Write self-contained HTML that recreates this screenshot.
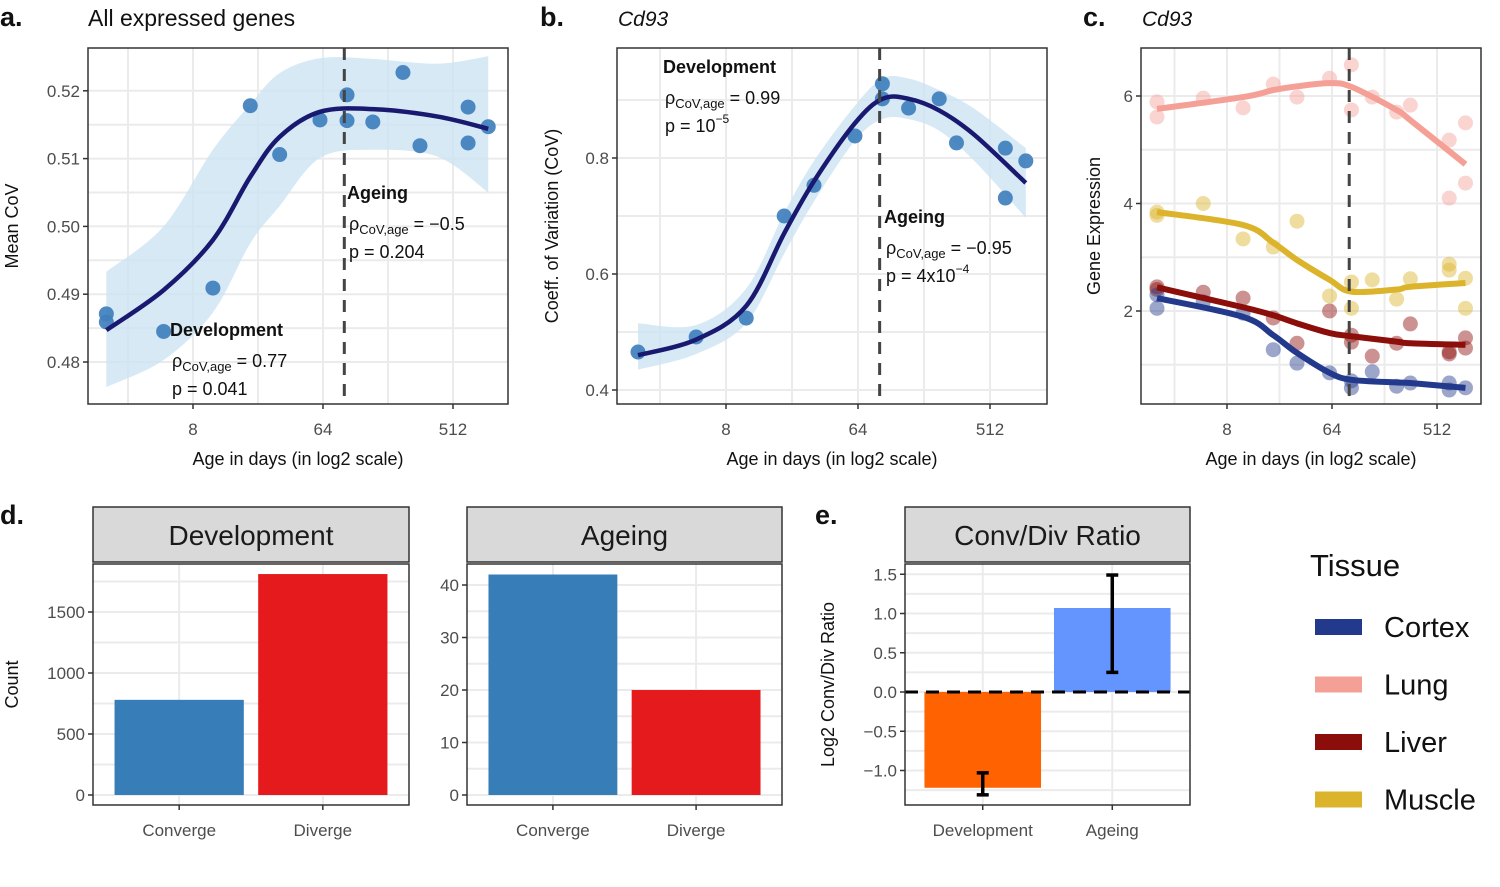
<!DOCTYPE html>
<html><head><meta charset="utf-8"><style>
body{margin:0;background:#fff;}
svg{display:block;font-family:"Liberation Sans",Arial,sans-serif;}
</style></head><body>
<svg id="fig" width="1500" height="887" viewBox="0 0 1500 887" xmlns="http://www.w3.org/2000/svg"></svg>
<script>
// ---------- Panel a data ----------
const agesA = [2,2,5,11,20,32,61,94,94,142,230,302,652,652,900];
const meanCovA = [0.4871,0.4859,0.4845,0.4909,0.5178,0.5106,0.5157,0.5194,0.5156,0.5154,0.5227,0.5119,0.5176,0.5123,0.5147];
const fitAgesA = [2,5,11,20,32,61,142,400,900];
const fitA = [0.4847,0.4906,0.498,0.5073,0.5132,0.5169,0.5173,0.5162,0.5144];
const upperA = [0.4933,0.500,0.5113,0.518,0.5226,0.5248,0.5247,0.524,0.5251];
const lowerA = [0.4763,0.4803,0.4873,0.4975,0.503,0.5101,0.5113,0.5103,0.505];
const yTicksA = [0.48,0.49,0.50,0.51,0.52];
// ---------- Panel b data ----------
const agesB = [2,5,11,20,32,61,94,94,142,230,302,652,652,900];
const covB = [0.4655,0.4914,0.524,0.70,0.753,0.838,0.928,0.902,0.886,0.902,0.826,0.817,0.731,0.795];
const fitAgesB = [2,5,11,20,32,61,94,142,230,400,900];
const fitB = [0.460,0.487,0.545,0.67,0.76,0.86,0.902,0.902,0.882,0.84,0.757];
const upperB = [0.515,0.512,0.575,0.705,0.795,0.89,0.937,0.937,0.917,0.885,0.817];
const lowerB = [0.435,0.462,0.515,0.635,0.725,0.83,0.867,0.867,0.847,0.795,0.697];
const yTicksB = [0.4,0.6,0.8];
// ---------- Panel c data ----------
const tissueNames = ["Cortex","Lung","Liver","Muscle"];
const ages16 = [2,2,5,11,20,32,61,94,94,142,230,302,652,652,900,900];
const cortexAges = [2,2,5,11,20,32,61,94,94,142,230,302,652,652,900];
const lungExpr = [5.89,5.61,5.96,5.78,6.22,5.98,6.33,6.58,5.74,5.98,5.70,5.83,5.18,4.10,5.50,4.38];
const muscleExpr = [3.84,3.78,4.0,3.34,3.19,3.67,2.28,2.54,2.05,2.58,2.22,2.60,2.87,2.76,2.61,2.05];
const liverExpr = [2.45,2.40,2.35,2.24,1.87,1.40,2.0,1.55,1.42,1.16,1.40,1.76,1.24,1.20,1.50,1.31];
const cortexExpr = [2.30,2.05,2.17,1.96,1.28,1.03,0.85,0.70,0.57,0.87,0.60,0.66,0.66,0.53,0.57];
const fitAgesC = [2,11,20,32,61,94,230,302,900];
const lungFit = [5.76,5.98,6.11,6.18,6.24,6.17,5.74,5.55,4.73];
const muscleFit = [3.84,3.6,3.27,2.95,2.58,2.36,2.40,2.45,2.52];
const liverFit = [2.44,2.07,1.92,1.77,1.59,1.53,1.43,1.40,1.37];
const cortexFit = [2.24,1.89,1.55,1.22,0.85,0.72,0.67,0.66,0.57];
const yTicksC = [2,4,6];
const xTickAges = [8,64,512];
const splitAge = 90;
// ---------- Panel d data ----------
const dirCats = ["Converge","Diverge"];
const devCounts = [780,1811];
const ageCounts = [42,20];
const yTicksDev = [0,500,1000,1500];
const yTicksAge = [0,10,20,30,40];
// ---------- Panel e data ----------
const ratioCats = ["Development","Ageing"];
const ratioVals = [-1.22,1.07];
const ratioLo = [-1.31,0.25];
const ratioHi = [-1.03,1.49];
const yTicksE = [-1.0,-0.5,0.0,0.5,1.0,1.5];

const NS="http://www.w3.org/2000/svg";
const svg=document.getElementById('fig');
function el(tag,attrs,parent,text){const e=document.createElementNS(NS,tag);for(const k in attrs)e.setAttribute(k,attrs[k]);if(text!==undefined)e.textContent=text;(parent||svg).appendChild(e);return e;}
function spline(pts){let d="M"+pts[0][0]+","+pts[0][1];for(let i=0;i<pts.length-1;i++){const p0=pts[i-1]||pts[i],p1=pts[i],p2=pts[i+1],p3=pts[i+2]||p2;const c1=[p1[0]+(p2[0]-p0[0])/6,p1[1]+(p2[1]-p0[1])/6],c2=[p2[0]-(p3[0]-p1[0])/6,p2[1]-(p3[1]-p1[1])/6];d+=" C"+c1+" "+c2+" "+p2;}return d;}
function logX(x8,k){return a=>x8+(Math.log2(a)-3)*k;}
function linY(v0,y0,ppu){return v=>y0-(v-v0)*ppu;}

function frame(g,x0,y0,x1,y1){const r=el('rect',{x:x0,y:y0,width:x1-x0,height:y1-y0,fill:'none',stroke:'#333','stroke-width':1.5},g);}
function hgrid(g,x0,x1,y,ymin,ymax){if(ymin!==undefined&&(y<ymin||y>ymax))return;el('line',{x1:x0,x2:x1,y1:y,y2:y,stroke:'#ebebeb','stroke-width':2},g);}
function vgrid(g,y0,y1,x){el('line',{x1:x,x2:x,y1:y0,y2:y1,stroke:'#ebebeb','stroke-width':2},g);}
function ytick(g,x0,y,label,fs){el('line',{x1:x0-5,x2:x0,y1:y,y2:y,stroke:'#333','stroke-width':1.5},g);const t=el('text',{x:x0-8,y:y+6,'text-anchor':'end','font-size':fs||17,fill:'#4d4d4d'},g,label);}
function xtick(g,x,y1,label,fs){el('line',{x1:x,x2:x,y1:y1,y2:y1+5,stroke:'#333','stroke-width':1.5},g);const t=el('text',{x:x,y:y1+31,'text-anchor':'middle','font-size':fs||17,fill:'#4d4d4d'},g,label);}

function scatterPanel(cfg){
 const g=el('g',{});
 const X=logX(cfg.x8,cfg.k),Y=cfg.Y;
 for(const l of [1.5,4.5,7.5]) vgrid(g,cfg.y0,cfg.y1,cfg.x8+(l-3)*cfg.k);
 for(const a of xTickAges) vgrid(g,cfg.y0,cfg.y1,X(a));
 for(const v of cfg.minorY) hgrid(g,cfg.x0,cfg.x1,Y(v));
 for(const v of cfg.yTicks) hgrid(g,cfg.x0,cfg.x1,Y(v));
 cfg.draw(g,X,Y);
 const dl=el('line',{x1:X(splitAge),x2:X(splitAge),y1:cfg.y0,y2:cfg.y1,stroke:'#444','stroke-width':3,'stroke-dasharray':'12,9'},g);
 
 frame(g,cfg.x0,cfg.y0,cfg.x1,cfg.y1);
 for(const v of cfg.yTicks) ytick(g,cfg.x0,Y(v),cfg.fmt(v));
 for(const a of xTickAges) xtick(g,X(a),cfg.y1,String(a));
 const xt=el('text',{x:(cfg.x0+cfg.x1)/2,y:465,'text-anchor':'middle','font-size':18,fill:'#111'},g,'Age in days (in log2 scale)');
 
 const yt=el('text',{x:cfg.ytx,y:(cfg.y0+cfg.y1)/2,'text-anchor':'middle','font-size':18,fill:'#111',transform:`rotate(-90 ${cfg.ytx} ${(cfg.y0+cfg.y1)/2})`},g,cfg.ytitle);
 
 return g;
}
function fitDraw(g,X,Y,ages,vals,fitAges,fit,up,lo){
 const upP=fitAges.map((a,i)=>[X(a),Y(up[i])]),loP=fitAges.map((a,i)=>[X(a),Y(lo[i])]).reverse();
 const rib=el('path',{d:spline(upP)+" L"+loP[0]+" "+spline(loP).slice(1)+" Z",fill:'#cce4f2','fill-opacity':0.8},g);
 
 for(let i=0;i<ages.length;i++){const c=el('circle',{cx:X(ages[i]),cy:Y(vals[i]),r:7.5,fill:'#3f7fbd','fill-opacity':0.92},g);
  }
 const ln=el('path',{d:spline(fitAges.map((a,i)=>[X(a),Y(fit[i])])),fill:'none',stroke:'#191970','stroke-width':4.5},g);
 
}
function annot(g,x,y,title,rho,p,pexp){
 const t=el('text',{x:x,y:y,'font-size':18,'font-weight':'bold',fill:'#111'},g,title);
 const r=el('text',{x:x+2,y:y+31,'font-size':18,fill:'#111'},g);
 el('tspan',{},r,'ρ');el('tspan',{'font-size':13,dy:4},r,'CoV,age');el('tspan',{dy:-4},r,' = '+rho);
 const pt=el('text',{x:x+2,y:y+59,'font-size':18,fill:'#111'},g,'p = '+p);
 if(pexp){el('tspan',{'font-size':12,dy:-9},pt,pexp);}
}

const ga=scatterPanel({name:'panel-a',x0:88,x1:508,y0:48,y1:404,x8:193,k:43.33,Y:linY(0.48,362,6780),yTicks:yTicksA,minorY:[0.485,0.495,0.505,0.515],fmt:v=>v.toFixed(2),ytx:18,ytitle:'Mean CoV',
 draw:(g,X,Y)=>fitDraw(g,X,Y,agesA,meanCovA,fitAgesA,fitA,upperA,lowerA)});
annot(ga,170,336,'Development','0.77','0.041');
annot(ga,347,199,'Ageing','−0.5','0.204');
const gb=scatterPanel({name:'panel-b',x0:617,x1:1047,y0:48,y1:404,x8:726,k:44,Y:linY(0.4,390,580),yTicks:yTicksB,minorY:[0.5,0.7,0.9],fmt:v=>v.toFixed(1),ytx:558,ytitle:'Coeff. of Variation (CoV)',
 draw:(g,X,Y)=>fitDraw(g,X,Y,agesB,covB,fitAgesB,fitB,upperB,lowerB)});
annot(gb,663,73,'Development','0.99','10','−5');
annot(gb,884,223,'Ageing','−0.95','4x10','−4');
const tissueCols={Cortex:'#233a8c',Lung:'#f4a096',Liver:'#8b0e0a',Muscle:'#dbb42c'};
const gc=scatterPanel({name:'panel-c',x0:1141,x1:1481,y0:48,y1:404,x8:1227,k:35,Y:linY(2,311,53.75),yTicks:yTicksC,minorY:[1,3,5],fmt:v=>String(v),ytx:1100,ytitle:'Gene Expression',
 draw:(g,X,Y)=>{
  const sets=[['Lung',ages16,lungExpr,lungFit],['Muscle',ages16,muscleExpr,muscleFit],['Liver',ages16,liverExpr,liverFit],['Cortex',cortexAges,cortexExpr,cortexFit]];
  for(const s of sets){for(let i=0;i<s[1].length;i++){const c=el('circle',{cx:X(s[1][i]),cy:Y(s[2][i]),r:7.5,fill:tissueCols[s[0]],'fill-opacity':0.45},g);
    }}
  for(const s of sets){const l=el('path',{d:spline(fitAgesC.map((a,i)=>[X(a),Y(s[3][i])])),fill:'none',stroke:tissueCols[s[0]],'stroke-width':6},g);
    }
 }});

function label(x,y,t,fs,extra,name){const e=el('text',Object.assign({x:x,y:y,'font-size':fs,fill:'#111'},extra||{}),svg,t);}
label(0,26,'a.',27,{'font-weight':'bold'},'panel-label-a');
label(88,26,'All expressed genes',23,{},'panel-a-title');
label(540,26,'b.',27,{'font-weight':'bold'},'panel-label-b');
label(618,26,'Cd93',21,{'font-style':'italic'},'panel-b-title');
label(1083,26,'c.',27,{'font-weight':'bold'},'panel-label-c');
label(1142,26,'Cd93',21,{'font-style':'italic'},'panel-c-title');
label(0,524,'d.',27,{'font-weight':'bold'},'panel-label-d');
label(815,524,'e.',27,{'font-weight':'bold'},'panel-label-e');

function barPanel(name,x0,x1,strip,cats,vals,yT,Y,colors,extraGrid){
 const g=el('g',{});
 const y0=564,y1=805;
 const st=el('rect',{x:x0,y:507,width:x1-x0,height:55,fill:'#d9d9d9',stroke:'#333','stroke-width':1.5},g);
 const stt=el('text',{x:(x0+x1)/2,y:545,'text-anchor':'middle','font-size':28,fill:'#1a1a1a'},g,strip);
 const unit=(x1-x0)/(cats.length+0.2);
 g.cx=i=>x0+unit*(0.6+i);
 for(let i=0;i<yT.length-1;i++) hgrid(g,x0,x1,Y((yT[i]+yT[i+1])/2),y0,y1);
 hgrid(g,x0,x1,Y(yT[yT.length-1]+(yT[1]-yT[0])/2),y0,y1);
 if(extraGrid) hgrid(g,x0,x1,Y(yT[0]-(yT[1]-yT[0])/2),y0,y1);
 for(const v of yT) hgrid(g,x0,x1,Y(v),y0,y1);
 for(let i=0;i<cats.length;i++) vgrid(g,y0,y1,g.cx(i));
 for(let i=0;i<cats.length;i++){const cx=g.cx(i),w=unit*0.9;const top=Math.min(Y(0),Y(vals[i])),h=Math.abs(Y(vals[i])-Y(0));
  const b=el('rect',{x:cx-w/2,y:top,width:w,height:h,fill:colors[i]},g);}
 return g;
}
function finishBar(g,x0,x1,cats,yT,Y,fmt,ytitle,ytx){
 const y0=564,y1=805;frame(g,x0,y0,x1,y1);
 for(const v of yT) ytick(g,x0,Y(v),fmt(v));
 for(let i=0;i<cats.length;i++) xtick(g,g.cx(i),y1,cats[i]);
 if(ytitle){const yt=el('text',{x:ytx,y:(y0+y1)/2,'text-anchor':'middle','font-size':18,fill:'#111',transform:`rotate(-90 ${ytx} ${(y0+y1)/2})`},g,ytitle);}
}
const Yd=linY(0,795,0.122),Yg=linY(0,795,5.25),Ye=linY(0,692,78.5);
const gd=barPanel('panel-d-development',93,409,'Development',dirCats,devCounts,yTicksDev,Yd,['#377eb8','#e41a1c']);
finishBar(gd,93,409,dirCats,yTicksDev,Yd,v=>String(v),'Count',18);
const gg=barPanel('panel-d-ageing',467,782,'Ageing',dirCats,ageCounts,yTicksAge,Yg,['#377eb8','#e41a1c']);
finishBar(gg,467,782,dirCats,yTicksAge,Yg,v=>String(v));
const ge=barPanel('panel-e',905,1190,'Conv/Div Ratio',ratioCats,ratioVals,yTicksE,Ye,['#ff6200','#6495ff'],true);
const zl=el('line',{x1:905,x2:1190,y1:Ye(0),y2:Ye(0),stroke:'#000','stroke-width':3,'stroke-dasharray':'13,8'},ge);
for(let i=0;i<ratioCats.length;i++){const cx=ge.cx(i);const eg=el('g',{stroke:'#000','stroke-width':3.5},ge);
 el('line',{x1:cx,x2:cx,y1:Ye(ratioLo[i]),y2:Ye(ratioHi[i])},eg);el('line',{x1:cx-6,x2:cx+6,y1:Ye(ratioLo[i]),y2:Ye(ratioLo[i])},eg);el('line',{x1:cx-6,x2:cx+6,y1:Ye(ratioHi[i]),y2:Ye(ratioHi[i])},eg);}
finishBar(ge,905,1190,ratioCats,yTicksE,Ye,v=>(v<0?'−':'')+Math.abs(v).toFixed(1),'Log2 Conv/Div Ratio',834);

const lg=el('g',{});
const lt=el('text',{x:1310,y:576,'font-size':31,fill:'#111'},lg,'Tissue');
tissueNames.forEach((n,i)=>{const y=627+i*57.5;const e=el('g',{},lg);
 el('rect',{x:1315,y:y-8,width:47,height:16,fill:tissueCols[n]},e);el('circle',{cx:1338,cy:y,r:7,fill:tissueCols[n],'fill-opacity':0.5},e);
 el('text',{x:1384,y:y+10,'font-size':29,fill:'#111'},e,n);});
</script>
</body></html>
